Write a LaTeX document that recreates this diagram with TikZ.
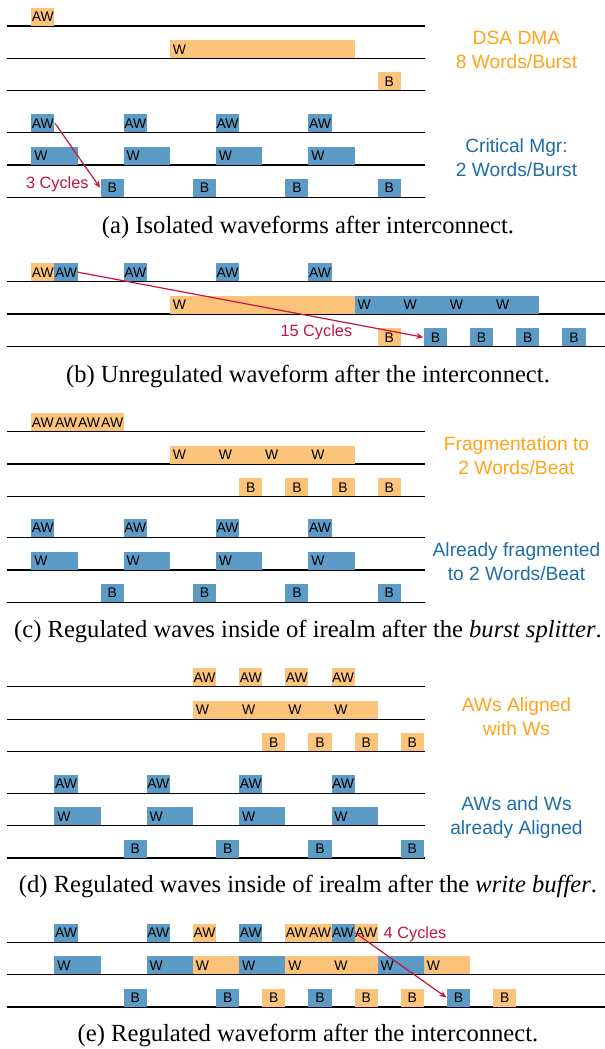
\documentclass[tikz,border=0pt]{standalone}
\usepackage{fontspec}
\setmainfont{Liberation Serif}
\setsansfont{Liberation Sans}
\usepackage{tikz}
\usetikzlibrary{arrows.meta}
\definecolor{dmafill}{HTML}{FBC47A}
\definecolor{critfill}{HTML}{5B9BC5}
\definecolor{dmatext}{HTML}{FFA31A}
\definecolor{crittext}{HTML}{1F6DA6}
\definecolor{cycred}{HTML}{C5153F}
\newcommand{\slotw}{9.6177pt}
\newcommand{\pxh}{0.41653pt}
\tikzstyle{beat}=[anchor=south west,inner sep=0pt,minimum width=\slotw,minimum height=7.5pt,font=\sffamily\fontsize{5.8}{6}\selectfont]
\tikzstyle{dma}=[beat,fill=dmafill]
\tikzstyle{crit}=[beat,fill=critfill]
\tikzstyle{two}=[inner xsep=1.2pt,text width=16.84pt,align=left]
\tikzstyle{eight}=[inner xsep=1.2pt,text width=74.54pt,align=left]
\tikzstyle{wave}=[line width=0.6pt]
\tikzstyle{cyc}=[cycred,line width=0.5pt,-{Stealth[length=3pt,width=2.4pt]}]
\tikzstyle{cyclab}=[text=cycred,inner sep=0pt,font=\sffamily\fontsize{6.8}{8}\selectfont]
\tikzstyle{side}=[align=center,font=\sffamily\fontsize{8}{10}\selectfont]
\tikzstyle{capt}=[font=\fontsize{10.25}{12}\selectfont]

\begin{document}
\begin{tikzpicture}[x=\slotw,y=-\pxh]
    \useasboundingbox (-1.3383,0) rectangle (24.8631,1049);
% (a)
    \draw[wave] (-1.04,26) -- (17.07,26);
    \draw[wave] (-1.04,58.7) -- (17.07,58.7);
    \draw[wave] (-1.04,90.7) -- (17.07,90.7);
    \draw[wave] (-1.04,132.7) -- (17.07,132.7);
    \draw[wave] (-1.04,165) -- (17.07,165);
    \draw[wave] (-1.04,197.3) -- (17.07,197.3);
    \node[dma] (aoAW0) at (0,26) {AW};
    \node[dma,eight] (aoW6) at (6,58.7) {W};
    \node[dma] (aoB15) at (15,90.7) {B};
    \node[crit] (acAW0) at (0,132.7) {AW};
    \node[crit] (acAW4) at (4,132.7) {AW};
    \node[crit] (acAW8) at (8,132.7) {AW};
    \node[crit] (acAW12) at (12,132.7) {AW};
    \node[crit,two] (acW0) at (0,165) {W};
    \node[crit,two] (acW4) at (4,165) {W};
    \node[crit,two] (acW8) at (8,165) {W};
    \node[crit,two] (acW12) at (12,165) {W};
    \node[crit] (acB3) at (3,197.3) {B};
    \node[crit] (acB7) at (7,197.3) {B};
    \node[crit] (acB11) at (11,197.3) {B};
    \node[crit] (acB15) at (15,197.3) {B};
    \node[side,text=dmatext] (aoside) at (21.03,49.8) {DSA DMA\\8 Words/Burst};
    \node[side,text=crittext] (acside) at (21.03,157.3) {Critical Mgr:\\2 Words/Burst};
    \draw[cyc] (acAW0.east) -- (acB3.west);
    \node[cyclab,anchor=base east] (acyc) at (2.52,188.3) {3 Cycles};
    \node[capt] (capa) at (12,227) {(a) Isolated waveforms after interconnect.};
% (b)
    \draw[wave] (-1.04,281.7) -- (24.87,281.7);
    \draw[wave] (-1.04,314) -- (24.87,314);
    \draw[wave] (-1.04,346.7) -- (24.87,346.7);
    \node[dma] (boAW0) at (0,281.7) {AW};
    \node[crit] (bcAW1) at (1,281.7) {AW};
    \node[crit] (bcAW4) at (4,281.7) {AW};
    \node[crit] (bcAW8) at (8,281.7) {AW};
    \node[crit] (bcAW12) at (12,281.7) {AW};
    \node[dma,eight] (boW6) at (6,314) {W};
    \node[crit,two] (bcW14) at (14,314) {W};
    \node[crit,two] (bcW16) at (16,314) {W};
    \node[crit,two] (bcW18) at (18,314) {W};
    \node[crit,two] (bcW20) at (20,314) {W};
    \node[dma] (boB15) at (15,346.7) {B};
    \node[crit] (bcB17) at (17,346.7) {B};
    \node[crit] (bcB19) at (19,346.7) {B};
    \node[crit] (bcB21) at (21,346.7) {B};
    \node[crit] (bcB23) at (23,346.7) {B};
    \draw[cyc] (bcAW1.east) -- (bcB17.west);
    \node[cyclab,anchor=base west] (bcyc) at (10.79,336.7) {15 Cycles};
    \node[capt] (capb) at (12,376.7) {(b) Unregulated waveform after the interconnect.};
% (c)
    \draw[wave] (-1.04,431.7) -- (17.07,431.7);
    \draw[wave] (-1.04,464) -- (17.07,464);
    \draw[wave] (-1.04,496.7) -- (17.07,496.7);
    \draw[wave] (-1.04,537.3) -- (17.07,537.3);
    \draw[wave] (-1.04,570) -- (17.07,570);
    \draw[wave] (-1.04,602.3) -- (17.07,602.3);
    \node[dma] (coAW0) at (0,431.7) {AW};
    \node[dma] (coAW1) at (1,431.7) {AW};
    \node[dma] (coAW2) at (2,431.7) {AW};
    \node[dma] (coAW3) at (3,431.7) {AW};
    \node[dma,two] (coW6) at (6,464) {W};
    \node[dma,two] (coW8) at (8,464) {W};
    \node[dma,two] (coW10) at (10,464) {W};
    \node[dma,two] (coW12) at (12,464) {W};
    \node[dma] (coB9) at (9,496.7) {B};
    \node[dma] (coB11) at (11,496.7) {B};
    \node[dma] (coB13) at (13,496.7) {B};
    \node[dma] (coB15) at (15,496.7) {B};
    \node[crit] (ccAW0) at (0,537.3) {AW};
    \node[crit] (ccAW4) at (4,537.3) {AW};
    \node[crit] (ccAW8) at (8,537.3) {AW};
    \node[crit] (ccAW12) at (12,537.3) {AW};
    \node[crit,two] (ccW0) at (0,570) {W};
    \node[crit,two] (ccW4) at (4,570) {W};
    \node[crit,two] (ccW8) at (8,570) {W};
    \node[crit,two] (ccW12) at (12,570) {W};
    \node[crit] (ccB3) at (3,602.3) {B};
    \node[crit] (ccB7) at (7,602.3) {B};
    \node[crit] (ccB11) at (11,602.3) {B};
    \node[crit] (ccB15) at (15,602.3) {B};
    \node[side,text=dmatext] (coside) at (21.03,455.8) {Fragmentation to\\2 Words/Beat};
    \node[side,text=crittext] (ccside) at (21.03,561.7) {Already fragmented\\to 2 Words/Beat};
    \node[capt] (capc) at (12,631.5) {(c) Regulated waves inside of irealm after the \textit{burst splitter}.};
% (d)
    \draw[wave] (-1.04,686.7) -- (17.07,686.7);
    \draw[wave] (-1.04,719.3) -- (17.07,719.3);
    \draw[wave] (-1.04,751.7) -- (17.07,751.7);
    \draw[wave] (-1.04,793.3) -- (17.07,793.3);
    \draw[wave] (-1.04,825.7) -- (17.07,825.7);
    \draw[wave] (-1.04,858) -- (17.07,858);
    \node[dma] (doAW7) at (7,686.7) {AW};
    \node[dma] (doAW9) at (9,686.7) {AW};
    \node[dma] (doAW11) at (11,686.7) {AW};
    \node[dma] (doAW13) at (13,686.7) {AW};
    \node[dma,two] (doW7) at (7,719.3) {W};
    \node[dma,two] (doW9) at (9,719.3) {W};
    \node[dma,two] (doW11) at (11,719.3) {W};
    \node[dma,two] (doW13) at (13,719.3) {W};
    \node[dma] (doB10) at (10,751.7) {B};
    \node[dma] (doB12) at (12,751.7) {B};
    \node[dma] (doB14) at (14,751.7) {B};
    \node[dma] (doB16) at (16,751.7) {B};
    \node[crit] (dcAW1) at (1,793.3) {AW};
    \node[crit] (dcAW5) at (5,793.3) {AW};
    \node[crit] (dcAW9) at (9,793.3) {AW};
    \node[crit] (dcAW13) at (13,793.3) {AW};
    \node[crit,two] (dcW1) at (1,825.7) {W};
    \node[crit,two] (dcW5) at (5,825.7) {W};
    \node[crit,two] (dcW9) at (9,825.7) {W};
    \node[crit,two] (dcW13) at (13,825.7) {W};
    \node[crit] (dcB4) at (4,858) {B};
    \node[crit] (dcB8) at (8,858) {B};
    \node[crit] (dcB12) at (12,858) {B};
    \node[crit] (dcB16) at (16,858) {B};
    \node[side,text=dmatext] (doside) at (21.03,716.2) {AWs Aligned\\with Ws};
    \node[side,text=crittext] (dcside) at (21.03,817.5) {AWs and Ws\\already Aligned};
    \node[capt] (capd) at (12,886.7) {(d) Regulated waves inside of irealm after the \textit{write buffer}.};
% (e)
    \draw[wave] (-1.04,942.3) -- (24.87,942.3);
    \draw[wave] (-1.04,974.7) -- (24.87,974.7);
    \draw[wave] (-1.04,1007) -- (24.87,1007);
    \node[crit] (ecAW1) at (1,942.3) {AW};
    \node[crit] (ecAW5) at (5,942.3) {AW};
    \node[dma] (eoAW7) at (7,942.3) {AW};
    \node[crit] (ecAW9) at (9,942.3) {AW};
    \node[dma] (eoAW11) at (11,942.3) {AW};
    \node[dma] (eoAW12) at (12,942.3) {AW};
    \node[crit] (ecAW13) at (13,942.3) {AW};
    \node[dma] (eoAW14) at (14,942.3) {AW};
    \node[crit,two] (ecW1) at (1,974.7) {W};
    \node[crit,two] (ecW5) at (5,974.7) {W};
    \node[dma,two] (eoW7) at (7,974.7) {W};
    \node[crit,two] (ecW9) at (9,974.7) {W};
    \node[dma,two] (eoW11) at (11,974.7) {W};
    \node[dma,two] (eoW13) at (13,974.7) {W};
    \node[crit,two] (ecW15) at (15,974.7) {W};
    \node[dma,two] (eoW17) at (17,974.7) {W};
    \node[crit] (ecB4) at (4,1007) {B};
    \node[crit] (ecB8) at (8,1007) {B};
    \node[dma] (eoB10) at (10,1007) {B};
    \node[crit] (ecB12) at (12,1007) {B};
    \node[dma] (eoB14) at (14,1007) {B};
    \node[dma] (eoB16) at (16,1007) {B};
    \node[crit] (ecB18) at (18,1007) {B};
    \node[dma] (eoB20) at (20,1007) {B};
    \draw[cyc] (ecAW13.east) -- (ecB18.west);
    \node[cyclab,anchor=base west] (ecyc) at (15.26,938.3) {4 Cycles};
    \node[capt] (cape) at (12,1035) {(e) Regulated waveform after the interconnect.};
\end{tikzpicture}
\end{document}
